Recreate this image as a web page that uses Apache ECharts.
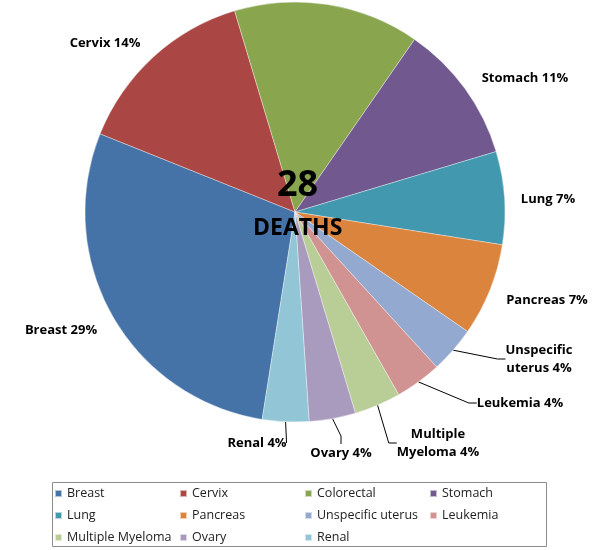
<!DOCTYPE html>
<html lang="en">
<head>
    <meta charset="UTF-8">
    <title>Deaths - Women</title>
    <script src="https://cdn.jsdelivr.net/npm/echarts@6/dist/echarts.min.js"></script>
    <style>
        html, body { margin: 0; padding: 0; background: #fff; }
        #main { width: 595px; height: 550px; }
    </style>
</head>
<body>
<div id="main"></div>
<script>
    // data (28 deaths in total)
    var causes = ['Breast', 'Cervix', 'Colorectal', 'Stomach', 'Lung', 'Pancreas',
        'Unspecific uterus', 'Leukemia', 'Multiple Myeloma', 'Ovary', 'Renal'];
    var deaths = [8, 4, 4, 3, 2, 2, 1, 1, 1, 1, 1];
    var totalDeaths = 28;

    // excel 2007 palette
    var palette = ['#4572A7', '#AA4643', '#89A54E', '#71588F', '#4198AF', '#DB843D',
        '#93A9CF', '#D19392', '#B9CD96', '#A99BBD', '#92C5D5'];

    // where each label sits (centre of the text box)
    var labelPos = {
        'Breast': [61, 330],
        'Cervix': [105, 43],
        'Stomach': [525, 78],
        'Lung': [548, 199],
        'Pancreas': [547, 300],
        'Unspecific uterus': [539, 359],
        'Leukemia': [520, 403],
        'Multiple Myeloma': [438, 443],
        'Ovary': [341, 453],
        'Renal': [257, 443]
    };
    var withLine = ['Unspecific uterus', 'Leukemia', 'Multiple Myeloma', 'Ovary', 'Renal'];
    var wrapped = ['Unspecific uterus', 'Multiple Myeloma'];

    var font = '"Open Sans", "Noto Sans", sans-serif';
    var myChart = echarts.init(document.getElementById('main'), null, {renderer: 'canvas'});

    var option = {
        color: palette,
        animation: false,
        legend: {
            data: causes,
            left: 52,
            top: 481,
            width: 495,
            padding: [4, 5, 3, 2],
            icon: 'rect',
            itemWidth: 7,
            itemHeight: 7,
            itemGap: 5,
            textStyle: {
                fontFamily: font,
                fontSize: 12.5,
                color: '#222',
                width: 107,
                lineHeight: 17
            }
        },
        graphic: [
            {
                // legend frame
                type: 'rect', z: 0,
                shape: {x: 52.5, y: 482.5, width: 494, height: 64},
                style: {fill: 'none', stroke: '#8c8c8c', lineWidth: 1}
            },
            {
                // title is cut off by the top edge in the original
                type: 'text', left: 36, top: -17, z: 10,
                style: {text: 'WOMEN', fontFamily: font, fontWeight: 'bold', fontSize: 19, fill: '#000'}
            },
            {
                type: 'text', left: 277, top: 168, z: 10,
                style: {text: String(totalDeaths), fontFamily: font, fontWeight: 'bold', fontSize: 36, fill: '#000'}
            },
            {
                type: 'text', left: 253, top: 217, z: 10,
                style: {text: 'DEATHS', fontFamily: font, fontWeight: 'bold', fontSize: 23, fill: '#000'}
            }
        ],
        series: [
            {
                type: 'pie',
                center: [295, 212],
                radius: 210,
                startAngle: 261,
                clockwise: true,
                avoidLabelOverlap: false,
                itemStyle: {borderColor: 'rgba(255,255,255,0.6)', borderWidth: 0.6},
                label: {
                    position: 'outside',
                    fontFamily: font,
                    fontWeight: 'bold',
                    fontSize: 13,
                    lineHeight: 18,
                    color: '#000',
                    align: 'center',
                    formatter: function (p) {
                        var n = wrapped.indexOf(p.name) >= 0 ? p.name.replace(' ', '\n') : p.name;
                        return n + ' ' + Math.round(p.value / totalDeaths * 100) + '%';
                    }
                },
                labelLine: {
                    length: 10,
                    length2: 8,
                    lineStyle: {color: '#000', width: 1}
                },
                labelLayout: function (params) {
                    var p = labelPos[causes[params.dataIndex]];
                    if (!p) return {};
                    return {x: p[0], y: p[1], align: 'center', verticalAlign: 'middle'};
                },
                emphasis: {disabled: true},
                data: causes.map(function (name, i) {
                    return {
                        name: name,
                        value: deaths[i],
                        label: {show: !!labelPos[name]},
                        labelLine: {show: withLine.indexOf(name) >= 0}
                    };
                })
            }
        ]
    };
    myChart.setOption(option);
</script>
</body>
</html>
